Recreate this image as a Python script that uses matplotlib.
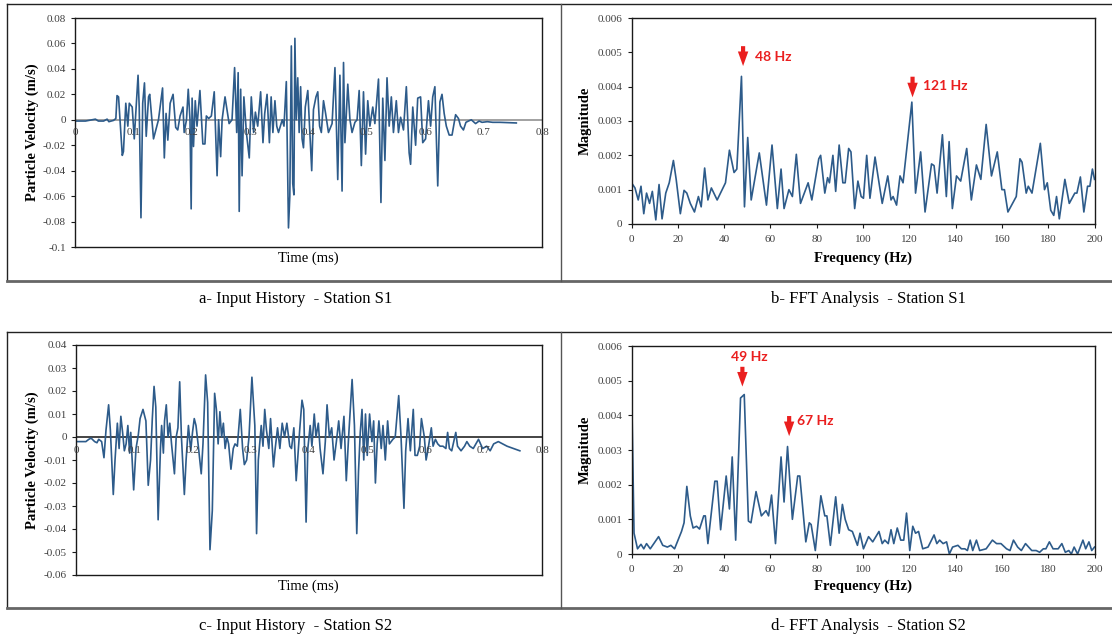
import matplotlib
matplotlib.use("Agg")
import matplotlib.pyplot as plt
from matplotlib.lines import Line2D

# ---------------- data ----------------
s1_time = [0, 0.018, 0.035, 0.040, 0.049, 0.055, 0.058, 0.066, 0.070, 0.072, 0.0746, 0.081, 0.083, 0.087, 0.0905,
           0.093, 0.098, 0.1015, 0.108, 0.110, 0.113, 0.116, 0.119, 0.122, 0.126, 0.128, 0.1345, 0.143, 0.150, 0.153,
           0.156, 0.159, 0.163, 0.168, 0.1725, 0.176, 0.180, 0.185, 0.187, 0.191, 0.194, 0.197, 0.199, 0.2006, 0.203,
           0.206, 0.209, 0.214, 0.219, 0.2226, 0.225, 0.229, 0.2336, 0.2385, 0.2434, 0.246, 0.2495, 0.252, 0.257,
           0.264, 0.269, 0.2734, 0.277, 0.2795, 0.2813, 0.2838, 0.2862, 0.2893, 0.2936, 0.2985, 0.302, 0.306, 0.309,
           0.313, 0.318, 0.322, 0.325, 0.329, 0.333, 0.336, 0.339, 0.3425, 0.3456, 0.3486, 0.355, 0.358, 0.362,
           0.3657, 0.368, 0.3706, 0.373, 0.375, 0.3767, 0.379, 0.3816, 0.384, 0.3865, 0.389, 0.3914, 0.3945, 0.3988,
           0.4024, 0.4055, 0.4085, 0.4128, 0.4159, 0.419, 0.422, 0.4257, 0.4293, 0.4342, 0.4404, 0.4453, 0.4501,
           0.4538, 0.4575, 0.46, 0.4624, 0.4673, 0.471, 0.4746, 0.4795, 0.4832, 0.4868, 0.4905, 0.4942, 0.4978,
           0.5015, 0.5052, 0.5101, 0.5137, 0.5199, 0.5241, 0.5272, 0.5309, 0.5345, 0.5382, 0.5419, 0.5455, 0.5504,
           0.5541, 0.5578, 0.5627, 0.5676, 0.5724, 0.5749, 0.5786, 0.5835, 0.5871, 0.592, 0.5957, 0.6006, 0.6055,
           0.6092, 0.6128, 0.6165, 0.6214, 0.6251, 0.6287, 0.6324, 0.6361, 0.641, 0.6459, 0.652, 0.6569, 0.6605,
           0.6654, 0.6697, 0.674, 0.6789, 0.6862, 0.6923, 0.6972, 0.7064, 0.7156, 0.7278, 0.756]
s1_vel = [-0.001, -0.001, 0.0005, -0.001, -0.001, 0.0005, -0.0015, -0.0005, 0.001, 0.019, 0.018, -0.028, -0.025,
          0.013, -0.005, 0.013, 0.010, -0.015, 0.035, 0.010, -0.077, 0.013, 0.029, -0.013, 0.018, 0.020, -0.015,
          0.000, 0.025, -0.030, 0.005, -0.016, 0.013, 0.020, -0.006, -0.008, 0.003, 0.010, -0.010, 0.000, 0.024,
          0.000, -0.070, 0.017, -0.021, 0.015, -0.005, 0.023, -0.019, -0.019, 0.003, 0.001, 0.003, 0.022, -0.044,
          0.000, -0.029, 0.000, 0.018, -0.003, 0.000, 0.041, -0.010, 0.037, -0.072, 0.024, -0.044, 0.018, -0.010,
          -0.030, 0.018, -0.010, 0.006, -0.005, 0.022, -0.018, 0.005, 0.020, -0.018, 0.018, -0.010, 0.015, -0.005,
          -0.010, 0.000, -0.005, 0.030, -0.085, -0.060, 0.058, -0.050, -0.059, 0.064, 0.000, 0.033, -0.010, 0.026,
          -0.015, -0.022, 0.010, 0.023, -0.010, -0.040, 0.008, 0.018, 0.022, -0.005, -0.010, 0.015, 0.005, -0.010,
          -0.003, 0.041, -0.047, 0.035, -0.056, 0.045, -0.018, 0.028, 0.000, -0.010, -0.002, 0.000, 0.023, -0.036,
          0.022, -0.027, 0.015, -0.005, 0.010, -0.003, 0.032, -0.065, 0.017, -0.032, 0.033, -0.005, 0.018, -0.010,
          0.015, -0.010, 0.002, -0.008, 0.026, -0.026, -0.035, 0.010, -0.020, 0.017, 0.018, -0.018, -0.015, 0.015,
          -0.005, 0.018, 0.026, -0.052, 0.014, 0.020, 0.005, -0.005, -0.012, -0.012, 0.004, 0.001, -0.005, -0.008,
          -0.002, -0.001, 0.000, -0.003, -0.001, -0.002, -0.0015, -0.002, -0.002, -0.0025]

s2_time = [0, 0.008, 0.017, 0.022, 0.026, 0.032, 0.036, 0.039, 0.044, 0.048, 0.0515, 0.056, 0.059, 0.064, 0.067,
           0.071, 0.074, 0.077, 0.080, 0.083, 0.086, 0.089, 0.092, 0.094, 0.099, 0.103, 0.107, 0.110, 0.115, 0.120,
           0.124, 0.128, 0.131, 0.134, 0.137, 0.141, 0.145, 0.147, 0.150, 0.152, 0.155, 0.158, 0.161, 0.164, 0.169,
           0.172, 0.175, 0.178, 0.181, 0.186, 0.189, 0.193, 0.197, 0.200, 0.203, 0.206, 0.210, 0.215, 0.218, 0.2225,
           0.226, 0.230, 0.234, 0.238, 0.241, 0.244, 0.247, 0.250, 0.253, 0.256, 0.259, 0.262, 0.266, 0.270, 0.273,
           0.277, 0.282, 0.286, 0.289, 0.293, 0.297, 0.302, 0.307, 0.310, 0.313, 0.318, 0.321, 0.324, 0.327, 0.331,
           0.334, 0.339, 0.342, 0.346, 0.350, 0.354, 0.358, 0.362, 0.367, 0.370, 0.374, 0.378, 0.381, 0.384, 0.388,
           0.391, 0.395, 0.398, 0.402, 0.405, 0.409, 0.412, 0.416, 0.419, 0.424, 0.428, 0.431, 0.435, 0.439, 0.443,
           0.447, 0.451, 0.455, 0.460, 0.464, 0.468, 0.474, 0.478, 0.482, 0.485, 0.488, 0.491, 0.494, 0.497, 0.500,
           0.504, 0.508, 0.511, 0.514, 0.517, 0.520, 0.524, 0.527, 0.531, 0.535, 0.538, 0.541, 0.544, 0.548, 0.554,
           0.558, 0.563, 0.566, 0.570, 0.574, 0.579, 0.582, 0.586, 0.590, 0.593, 0.598, 0.601, 0.604, 0.610, 0.613,
           0.617, 0.621, 0.625, 0.630, 0.635, 0.638, 0.641, 0.645, 0.652, 0.655, 0.661, 0.667, 0.671, 0.676, 0.682,
           0.691, 0.698, 0.705, 0.711, 0.717, 0.725, 0.740, 0.762]
s2_vel = [-0.002, -0.002, -0.002, -0.001, -0.0005, -0.002, -0.0025, -0.001, -0.002, -0.009, 0.003, 0.014, 0.003,
          -0.025, -0.010, 0.006, -0.005, 0.009, 0.002, -0.006, -0.003, 0.005, -0.007, 0.002, -0.023, -0.005, 0.001,
          0.008, 0.012, 0.007, -0.021, -0.010, 0.008, 0.022, 0.013, -0.036, -0.005, 0.005, -0.007, 0.007, 0.014,
          0.000, 0.006, -0.003, -0.016, 0.000, 0.004, 0.024, 0.000, -0.025, -0.010, 0.005, -0.006, 0.002, 0.008,
          0.005, -0.004, -0.016, -0.003, 0.027, 0.015, -0.049, -0.032, 0.019, 0.012, -0.003, 0.011, 0.000, 0.006,
          -0.005, 0.000, -0.003, -0.014, -0.005, -0.003, -0.004, 0.012, -0.005, -0.012, -0.010, 0.000, 0.026, 0.005,
          -0.042, -0.010, 0.005, -0.004, 0.012, 0.003, -0.005, 0.008, -0.013, -0.005, 0.004, -0.005, 0.006, 0.000,
          0.006, -0.004, -0.005, 0.004, -0.019, -0.008, 0.003, 0.016, 0.012, -0.037, -0.005, 0.005, -0.004, 0.010,
          0.000, 0.006, -0.005, -0.016, -0.002, 0.014, 0.000, 0.004, -0.010, -0.002, 0.007, -0.005, 0.009, -0.019,
          0.000, 0.025, 0.005, -0.042, -0.015, 0.002, 0.012, -0.010, 0.010, -0.008, 0.010, -0.002, 0.007, -0.020,
          -0.003, 0.007, -0.005, 0.005, -0.010, 0.007, -0.003, -0.002, -0.001, 0.000, 0.018, 0.000, -0.031, -0.006,
          0.008, -0.006, 0.012, -0.008, -0.008, -0.004, 0.008, 0.000, -0.010, -0.006, 0.004, -0.004, -0.001, -0.003,
          -0.004, -0.004, -0.005, 0.002, -0.005, -0.006, 0.002, -0.004, -0.006, -0.004, -0.002, -0.004, -0.005,
          -0.001, -0.005, -0.004, -0.006, -0.003, -0.002, -0.004, -0.006]

s1_freq = [0, 1.5, 2.9, 4.1, 5.3, 6.5, 7.8, 9.0, 10.5, 11.9, 13.2, 14.8, 16.3, 18.1, 19.3, 21.1, 22.7, 23.9, 25.4,
           27.2, 28.9, 30.1, 31.6, 33.0, 34.5, 37.0, 40.6, 42.3, 44.3, 45.5, 47.5, 48.8, 50.2, 51.7, 55.2, 58.3,
           60.7, 63.0, 64.6, 65.9, 68.0, 69.5, 71.2, 73.0, 76.3, 77.9, 80.9, 81.7, 83.5, 84.7, 85.5, 87.0, 88.2,
           89.7, 91.3, 92.3, 93.8, 94.8, 96.4, 97.8, 99.2, 100.2, 101.6, 103.0, 105.2, 108.3, 110.7, 112.1, 113.0,
           114.5, 116.0, 117.3, 121.1, 122.7, 124.9, 126.8, 129.6, 130.7, 132.0, 134.3, 136.0, 137.2, 138.6, 140.4,
           142.2, 144.8, 146.8, 149.0, 150.9, 153.2, 155.5, 158.0, 160.0, 161.1, 162.6, 163.8, 166.2, 167.8, 168.7,
           170.5, 171.4, 173.0, 176.6, 178.4, 179.6, 181.1, 182.4, 183.6, 184.8, 187.2, 189.1, 191.5, 192.4, 193.9,
           195.4, 197.0, 198.0, 199.1, 200.0]
s1_mag = [0.0012, 0.00105, 0.0007, 0.0011, 0.0003, 0.0009, 0.0006, 0.00095, 0.00012, 0.00115, 0.00015, 0.0009,
          0.0012, 0.00185, 0.0013, 0.0003, 0.00098, 0.0009, 0.0006, 0.00035, 0.0008, 0.0005, 0.00163, 0.0007,
          0.00105, 0.0007, 0.0012, 0.00215, 0.0015, 0.0016, 0.0043, 0.0005, 0.00252, 0.0007, 0.00207, 0.00055,
          0.0023, 0.00045, 0.0016, 0.00045, 0.001, 0.0008, 0.00203, 0.0006, 0.0012, 0.0007, 0.0019, 0.002, 0.0009,
          0.00135, 0.0012, 0.002, 0.00095, 0.0023, 0.0012, 0.0012, 0.0022, 0.0021, 0.00045, 0.00125, 0.0008,
          0.00075, 0.002, 0.00075, 0.00195, 0.0006, 0.0014, 0.0007, 0.0008, 0.00055, 0.0014, 0.0012, 0.00355,
          0.0009, 0.0021, 0.00035, 0.00175, 0.0017, 0.0009, 0.0026, 0.0008, 0.0024, 0.00045, 0.0014, 0.00125,
          0.0022, 0.0007, 0.00172, 0.0013, 0.0029, 0.0014, 0.0021, 0.001, 0.001, 0.00035, 0.0005, 0.0008, 0.0019,
          0.0018, 0.0009, 0.0011, 0.0009, 0.00235, 0.001, 0.0012, 0.0004, 0.00025, 0.0008, 0.00015, 0.0013, 0.0006,
          0.0009, 0.0009, 0.00137, 0.00035, 0.0011, 0.0011, 0.0016, 0.0013]

s2_freq = [0, 1.1, 2.6, 4.1, 5.3, 6.5, 8.1, 11.7, 13.5, 15.5, 17.0, 18.6, 21.6, 22.7, 23.9, 25.4, 26.6, 28.1, 29.4,
           31.2, 31.9, 33.0, 36.0, 37.0, 38.5, 40.9, 42.3, 43.5, 45.0, 47.1, 48.7, 50.5, 51.6, 53.8, 56.1, 58.1,
           59.2, 60.5, 62.2, 64.6, 65.9, 67.4, 69.5, 71.8, 72.7, 75.3, 76.8, 77.6, 79.4, 81.8, 83.5, 84.4, 85.9,
           88.2, 89.7, 91.1, 92.3, 93.8, 95.4, 97.6, 98.7, 100.2, 102.4, 104.2, 106.9, 108.3, 109.4, 110.9, 112.1,
           113.3, 114.8, 116.3, 117.6, 118.8, 120.2, 121.5, 122.7, 124.0, 125.8, 128.1, 130.7, 131.9, 133.1, 134.6,
           136.1, 137.3, 138.7, 141.0, 142.5, 144.0, 145.1, 146.3, 147.4, 149.0, 150.4, 153.2, 155.9, 157.7, 159.6,
           162.0, 163.5, 165.0, 166.8, 168.4, 170.2, 172.9, 174.8, 176.3, 177.9, 179.0, 180.5, 182.1, 184.3, 185.9,
           187.4, 188.9, 190.0, 191.2, 192.7, 195.0, 196.2, 197.6, 198.8, 200.0]
s2_mag = [0.005, 0.0006, 0.00015, 0.00028, 0.00015, 0.0003, 0.00015, 0.0005, 0.00025, 0.0002, 0.00025, 0.00015,
          0.00065, 0.0009, 0.00195, 0.0011, 0.00075, 0.0008, 0.00072, 0.0011, 0.0011, 0.0003, 0.0021, 0.0021,
          0.0007, 0.00225, 0.0013, 0.0028, 0.0004, 0.0045, 0.0046, 0.00095, 0.0009, 0.0018, 0.0011, 0.00125, 0.0011,
          0.0017, 0.0003, 0.0028, 0.0015, 0.0031, 0.001, 0.00225, 0.00225, 0.00035, 0.0009, 0.00085, 0.0001,
          0.00168, 0.0011, 0.0011, 0.00025, 0.00165, 0.0006, 0.00143, 0.001, 0.0007, 0.00065, 0.00025, 0.0006,
          0.00015, 0.0005, 0.00035, 0.00065, 0.0003, 0.0004, 0.0003, 0.0007, 0.0003, 0.00075, 0.0004, 0.0004,
          0.00118, 0.0001, 0.0008, 0.0006, 0.00065, 0.00015, 0.0002, 0.00055, 0.0003, 0.0004, 0.0003, 0.00035,
          0.0, 0.0002, 0.00025, 0.00015, 0.00015, 0.0001, 0.0004, 0.0001, 0.0004, 0.0001, 0.00015, 0.0004, 0.0003,
          0.0003, 0.00015, 0.0001, 0.0004, 0.0002, 0.0001, 0.0003, 0.0001, 0.0001, 0.00005, 0.00015, 0.00015,
          0.00035, 0.00015, 0.00015, 0.0003, 0.00005, 0.0001, 0.0, 0.0002, 0.0, 0.0004, 0.00015, 0.00035, 0.0001,
          0.0002]

time_ticks = [0, 0.1, 0.2, 0.3, 0.4, 0.5, 0.6, 0.7, 0.8]
time_tick_labels = ["0", "0.1", "0.2", "0.3", "0.4", "0.5", "0.6", "0.7", "0.8"]
s1_vel_ticks = [-0.1, -0.08, -0.06, -0.04, -0.02, 0, 0.02, 0.04, 0.06, 0.08]
s1_vel_labels = ["-0.1", "-0.08", "-0.06", "-0.04", "-0.02", "0", "0.02", "0.04", "0.06", "0.08"]
s2_vel_ticks = [-0.06, -0.05, -0.04, -0.03, -0.02, -0.01, 0, 0.01, 0.02, 0.03, 0.04]
s2_vel_labels = ["-0.06", "-0.05", "-0.04", "-0.03", "-0.02", "-0.01", "0", "0.01", "0.02", "0.03", "0.04"]
freq_ticks = [0, 20, 40, 60, 80, 100, 120, 140, 160, 180, 200]
mag_ticks = [0, 0.001, 0.002, 0.003, 0.004, 0.005, 0.006]
mag_labels = ["0", "0.001", "0.002", "0.003", "0.004", "0.005", "0.006"]

captions = ["a- Input History  - Station S1", "b- FFT Analysis  - Station S1",
            "c- Input History  - Station S2", "d- FFT Analysis  - Station S2"]
peaks_s1 = [(48.2, "48 Hz"), (121.4, "121 Hz")]
peaks_s2 = [(47.9, "49 Hz"), (68.1, "67 Hz")]

# ---------------- figure ----------------
W, H = 1112, 639
fig = plt.figure(figsize=(W / 100, H / 100), dpi=100)
fig.patch.set_facecolor("white")

SERIF = ["Liberation Serif", "DejaVu Serif"]
LINE_C = "#2d5b8a"
RED = "#ea1f1f"
TICK_C = "#404040"
TICK_FS = 8


def px_axes(l, r, t, b):
    return fig.add_axes([l / W, 1 - b / H, (r - l) / W, (b - t) / H])


def fig_line(x0, y0, x1, y1, color="black", lw=1.0):
    fig.add_artist(Line2D([x0 / W, x1 / W], [1 - y0 / H, 1 - y1 / H], transform=fig.transFigure,
                          color=color, lw=lw))


def ftext(x, y, s, **kw):
    fig.text(x / W, 1 - y / H, s, **kw)


# frame lines
fig_line(7, 4, W, 4, color="#222222", lw=1.0)
fig_line(7, 4, 7, 281, color="#222222", lw=1.0)
fig_line(7, 281, W, 281, color="#666666", lw=2.0)
fig_line(561, 4, 561, 281, color="#555555", lw=1.0)
fig_line(7, 332, W, 332, color="#222222", lw=1.0)
fig_line(7, 332, 7, 608, color="#222222", lw=1.0)
fig_line(7, 608, W, 608, color="#666666", lw=2.0)
fig_line(561, 332, 561, 608, color="#555555", lw=1.0)


def style_axes(ax):
    for sp in ax.spines.values():
        sp.set_color("#1a1a1a")
        sp.set_linewidth(1.0)
    ax.tick_params(axis="both", direction="out", length=3, width=0.8, colors="#1a1a1a",
                   labelsize=TICK_FS, labelcolor=TICK_C)
    for lbl in ax.get_xticklabels() + ax.get_yticklabels():
        lbl.set_family(SERIF)


def time_panel(ax, t, v, ylim, yticks, ylabels, zero_color, zero_lw):
    ax.axhline(0, color=zero_color, lw=zero_lw, zorder=1)
    ax.plot(t, v, color=LINE_C, lw=1.2, zorder=2)
    ax.set_xlim(0, 0.8)
    ax.set_ylim(*ylim)
    ax.set_yticks(yticks)
    ax.set_yticklabels(ylabels)
    ax.set_xticks([])
    style_axes(ax)
    for tk, lb in zip(time_ticks, time_tick_labels):
        ax.annotate(lb, xy=(tk, 0), xytext=(0, -9.5), textcoords="offset points", ha="center", va="center",
                    fontsize=TICK_FS, color=TICK_C, family=SERIF, annotation_clip=False)


def fft_panel(ax, f, m):
    ax.plot(f, m, color=LINE_C, lw=1.2)
    ax.set_xlim(0, 200)
    ax.set_ylim(0, 0.006)
    ax.set_xticks(freq_ticks)
    ax.set_xticklabels([str(x) for x in freq_ticks])
    ax.set_yticks(mag_ticks)
    ax.set_yticklabels(mag_labels)
    style_axes(ax)
    ax.tick_params(axis="x", pad=5)


def red_arrow(ax, x, y_tail, y_tip):
    ax.annotate("", xy=(x, y_tip), xytext=(x, y_tail),
                arrowprops=dict(arrowstyle="simple,head_length=0.7,head_width=0.5,tail_width=0.2",
                                color=RED, lw=0, shrinkA=0, shrinkB=0, mutation_scale=15),
                annotation_clip=False)


# panel a
ax_a = px_axes(75, 542, 18, 247)
time_panel(ax_a, s1_time, s1_vel, (-0.1, 0.08), s1_vel_ticks, s1_vel_labels, "#9a9a9a", 1.3)
ftext(32, 132, "Particle Velocity (m/s)", rotation=90, ha="center", va="center", fontsize=10.5,
      fontweight="bold", family=SERIF)
ftext(308, 258, "Time (ms)", ha="center", va="center", fontsize=10.5, family=SERIF)

# panel b
ax_b = px_axes(631.5, 1094.5, 18, 224)
fft_panel(ax_b, s1_freq, s1_mag)
red_arrow(ax_b, peaks_s1[0][0], 0.00518, 0.0046)
ax_b.text(53.5, 0.00486, peaks_s1[0][1], color=RED, fontsize=10, fontweight="bold", family="Lato",
          ha="left", va="center")
red_arrow(ax_b, peaks_s1[1][0], 0.00429, 0.00369)
ax_b.text(125.8, 0.00403, peaks_s1[1][1], color=RED, fontsize=10, fontweight="bold", family="Lato",
          ha="left", va="center")
ftext(585, 121, "Magnitude", rotation=90, ha="center", va="center", fontsize=10.5, fontweight="bold",
      family=SERIF)
ftext(863, 258, "Frequency (Hz)", ha="center", va="center", fontsize=10.5, fontweight="bold", family=SERIF)

# panel c
ax_c = px_axes(76, 542, 345, 575)
time_panel(ax_c, s2_time, s2_vel, (-0.06, 0.04), s2_vel_ticks, s2_vel_labels, "#111111", 1.1)
ftext(32, 460, "Particle Velocity (m/s)", rotation=90, ha="center", va="center", fontsize=10.5,
      fontweight="bold", family=SERIF)
ftext(308, 586, "Time (ms)", ha="center", va="center", fontsize=10.5, family=SERIF)

# panel d
ax_d = px_axes(631.5, 1094.5, 346, 554)
fft_panel(ax_d, s2_freq, s2_mag)
ax_d.text(51.0, 0.00569, peaks_s2[0][1], color=RED, fontsize=10, fontweight="bold", family="Lato",
          ha="center", va="center")
red_arrow(ax_d, peaks_s2[0][0], 0.0054, 0.00483)
red_arrow(ax_d, peaks_s2[1][0], 0.00398, 0.0034)
ax_d.text(71.3, 0.00385, peaks_s2[1][1], color=RED, fontsize=10, fontweight="bold", family="Lato",
          ha="left", va="center")
ftext(585, 450, "Magnitude", rotation=90, ha="center", va="center", fontsize=10.5, fontweight="bold",
      family=SERIF)
ftext(863, 586, "Frequency (Hz)", ha="center", va="center", fontsize=10.5, fontweight="bold", family=SERIF)

# captions
ftext(296, 299, captions[0], ha="center", va="center", fontsize=12, family=SERIF)
ftext(868, 299, captions[1], ha="center", va="center", fontsize=12, family=SERIF)
ftext(296, 626, captions[2], ha="center", va="center", fontsize=12, family=SERIF)
ftext(868, 626, captions[3], ha="center", va="center", fontsize=12, family=SERIF)

fig.savefig("out.png", dpi=100, facecolor="white")
